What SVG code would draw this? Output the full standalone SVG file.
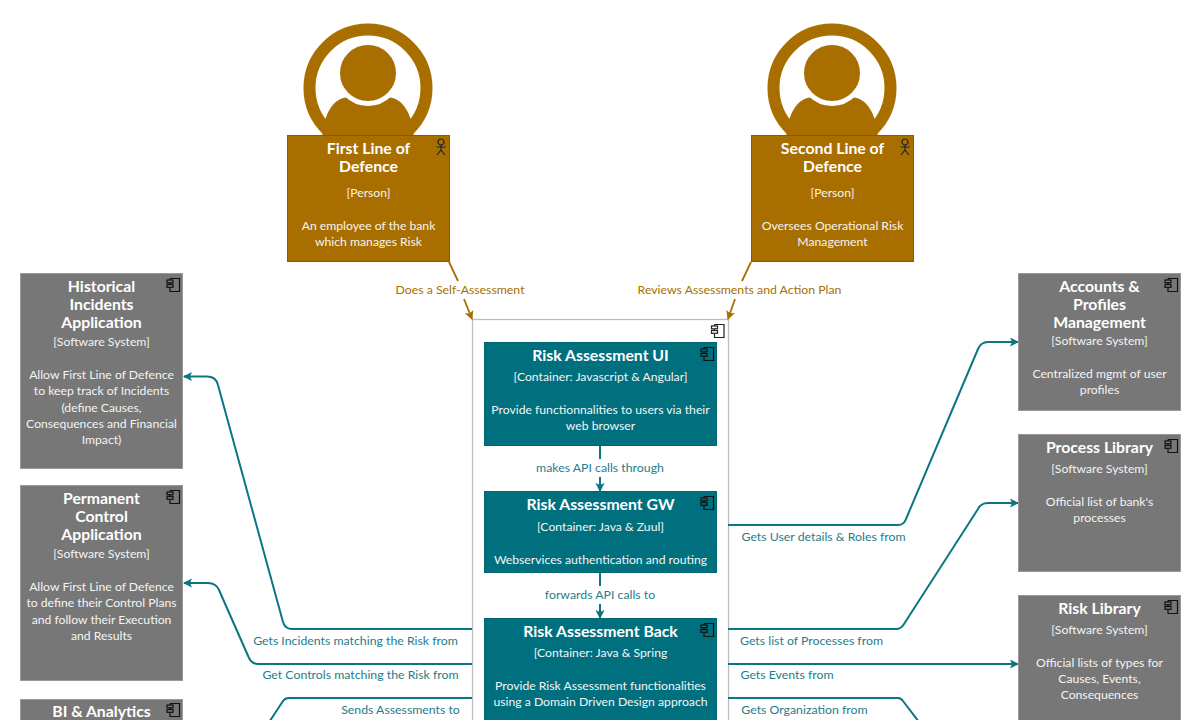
<svg xmlns="http://www.w3.org/2000/svg" width="1201" height="720" viewBox="0 0 1201 720">
<style>
text{font-family:"Lato","Liberation Sans",sans-serif;text-anchor:middle;transform:translateY(-0.7px)}
.t{font-size:15.8px;font-weight:700;fill:#fff}
.d{font-size:12.2px;fill:#f4f4f4}
.box{stroke-width:1}
.g{fill:#777;stroke:#999}
.c{fill:#00707f;stroke:#006570}
.p{fill:#a86f00;stroke:#8a5c00}
.lt{font-size:12.3px;fill:#1f7d8a}
.lb{font-size:12.3px;fill:#a86f00}
.ln{fill:none;stroke:#0b7581;stroke-width:2;stroke-linejoin:round}
.lp{fill:none;stroke:#a86f00;stroke-width:1.8}
.ic{fill:none;stroke-width:1.2}
</style>
<defs>
<marker id="at" markerUnits="userSpaceOnUse" markerWidth="10" markerHeight="10" refX="8" refY="4.500" orient="auto"><path d="M0 0L9 4.500L0 9L2 4.500z" fill="#0b7581"/></marker>
<marker id="ab" markerUnits="userSpaceOnUse" markerWidth="10" markerHeight="10" refX="8" refY="4.500" orient="auto"><path d="M0 0L9 4.500L0 9L2 4.500z" fill="#a86f00"/></marker>
<g id="comp"><path class="ic" d="M-9 -6.500h9.500v13h-9.500v-3.500M-9 -2.200v1.700M-9 -6.500v1.500"/><rect class="ic" x="-12" y="-5" width="6" height="2.800"/><rect class="ic" x="-12" y="-0.500" width="6" height="2.800"/></g>
<g id="actor"><circle class="ic" cx="0" cy="-5" r="3"/><path class="ic" d="M0 -2V3M-4.500 0H4.500M-4 8L0 3L4 8"/></g>
<g id="person"><circle cx="0" cy="0" r="58.500" fill="#fff"/><path d="M-46 50C-44 24 -34 9 -18 9H18C34 9 44 24 46 50V60H-46z" fill="#a86f00"/><circle cx="0" cy="-15" r="30.500" fill="#a86f00" stroke="#fff" stroke-width="5"/><circle cx="0" cy="0" r="58.500" fill="none" stroke="#a86f00" stroke-width="12"/></g>
</defs>

<rect id="boundary" x="472.500" y="319.500" width="256" height="420" fill="#fff" stroke="#bdbdbd" stroke-width="1.300"/>
<use href="#comp" x="723.500" y="331" stroke="#222"/>

<g id="connectors">
<path class="lp" d="M449 262L458 281"/><path class="lp" marker-end="url(#ab)" d="M464 299L472 319"/>
<path class="lp" d="M751 262L742 281"/><path class="lp" marker-end="url(#ab)" d="M735 299L728 319"/>
<path class="ln" d="M600 446V459"/><path class="ln" marker-end="url(#at)" d="M600 477V491"/>
<path class="ln" d="M600 573V586"/><path class="ln" marker-end="url(#at)" d="M600 604V618"/>
<path class="ln" marker-end="url(#at)" d="M472 629H292Q285 629 283 622L218 385Q216 376.500 207 376.500H184"/>
<path class="ln" marker-end="url(#at)" d="M472 664H258Q252 664 249 658L219 590Q216 583 208 583H184"/>
<path class="ln" d="M472 698H289Q285 698 283 701L262 733"/>
<path class="ln" marker-end="url(#at)" d="M728 525H898Q904 525 906 519L978 349Q981 342 988 342H1018"/>
<path class="ln" marker-end="url(#at)" d="M728 629H896Q901 629 904 624L978 509Q981 503 988 503H1018"/>
<path class="ln" marker-end="url(#at)" d="M728 664H1018"/>
<path class="ln" d="M728 698H898Q901 698 903 701L932 739"/>
</g>

<g id="person1"><use href="#person" x="368" y="88"/>
<rect class="box p" x="287.500" y="135.500" width="162" height="126"/>
<use href="#actor" x="441" y="147" stroke="#222"/>
<text class="t" x="368.500" y="155">First Line of</text><text class="t" x="368.500" y="173">Defence</text>
<text class="d" x="368.500" y="198">[Person]</text>
<text class="d" x="368.500" y="231">An employee of the bank</text><text class="d" x="368.500" y="247">which manages Risk</text></g>

<g id="person2"><use href="#person" x="832" y="88"/>
<rect class="box p" x="751.500" y="135.500" width="162" height="126"/>
<use href="#actor" x="905" y="147" stroke="#222"/>
<text class="t" x="832.500" y="155">Second Line of</text><text class="t" x="832.500" y="173">Defence</text>
<text class="d" x="832.500" y="198">[Person]</text>
<text class="d" x="832.500" y="231">Oversees Operational Risk</text><text class="d" x="832.500" y="247">Management</text></g>

<g id="ui"><rect class="box c" x="484.500" y="342.500" width="232" height="103"/>
<use href="#comp" x="713" y="354" stroke="#111"/>
<text class="t" x="600.500" y="362">Risk Assessment UI</text>
<text class="d" x="600.500" y="382">[Container: Javascript &amp; Angular]</text>
<text class="d" x="600.500" y="415">Provide functionnalities to users via their</text>
<text class="d" x="600.500" y="431">web browser</text></g>

<g id="gw"><rect class="box c" x="484.500" y="491.500" width="232" height="81"/>
<use href="#comp" x="713" y="503" stroke="#111"/>
<text class="t" x="600.500" y="511">Risk Assessment GW</text>
<text class="d" x="600.500" y="532">[Container: Java &amp; Zuul]</text>
<text class="d" x="600.500" y="565">Webservices authentication and routing</text></g>

<g id="back"><rect class="box c" x="484.500" y="618.500" width="232" height="109"/>
<use href="#comp" x="713" y="630" stroke="#111"/>
<text class="t" x="600.500" y="638">Risk Assessment Back</text>
<text class="d" x="600.500" y="658">[Container: Java &amp; Spring</text>
<text class="d" x="600.500" y="691">Provide Risk Assessment functionalities</text>
<text class="d" x="600.500" y="707">using a Domain Driven Design approach</text></g>

<g id="historical"><rect class="box g" x="20.500" y="273.500" width="162" height="195"/>
<use href="#comp" x="179" y="285" stroke="#111"/>
<text class="t" x="101.500" y="293">Historical</text><text class="t" x="101.500" y="311">Incidents</text><text class="t" x="101.500" y="329">Application</text>
<text class="d" x="101.500" y="347">[Software System]</text>
<text class="d" x="101.500" y="380">Allow First Line of Defence</text><text class="d" x="101.500" y="396">to keep track of Incidents</text><text class="d" x="101.500" y="413">(define Causes,</text><text class="d" x="101.500" y="429">Consequences and Financial</text><text class="d" x="101.500" y="445">Impact)</text></g>

<g id="permanent"><rect class="box g" x="20.500" y="485.500" width="162" height="195"/>
<use href="#comp" x="179" y="497" stroke="#111"/>
<text class="t" x="101.500" y="505">Permanent</text><text class="t" x="101.500" y="523">Control</text><text class="t" x="101.500" y="541">Application</text>
<text class="d" x="101.500" y="559">[Software System]</text>
<text class="d" x="101.500" y="592">Allow First Line of Defence</text><text class="d" x="101.500" y="608">to define their Control Plans</text><text class="d" x="101.500" y="625">and follow their Execution</text><text class="d" x="101.500" y="641">and Results</text></g>

<g id="bi"><rect class="box g" x="20.500" y="699.500" width="162" height="40"/>
<use href="#comp" x="179" y="710" stroke="#111"/>
<text class="t" x="101.500" y="718">BI &amp; Analytics</text></g>

<g id="accounts"><rect class="box g" x="1018.500" y="273.500" width="162" height="137"/>
<use href="#comp" x="1177" y="285" stroke="#111"/>
<text class="t" x="1099.500" y="293">Accounts &amp;</text><text class="t" x="1099.500" y="311">Profiles</text><text class="t" x="1099.500" y="329">Management</text>
<text class="d" x="1099.500" y="346">[Software System]</text>
<text class="d" x="1099.500" y="379">Centralized mgmt of user</text><text class="d" x="1099.500" y="395">profiles</text></g>

<g id="process"><rect class="box g" x="1018.500" y="434.500" width="162" height="137"/>
<use href="#comp" x="1177" y="446" stroke="#111"/>
<text class="t" x="1099.500" y="454">Process Library</text>
<text class="d" x="1099.500" y="474">[Software System]</text>
<text class="d" x="1099.500" y="507">Official list of bank's</text><text class="d" x="1099.500" y="523">processes</text></g>

<g id="risklib"><rect class="box g" x="1018.500" y="595.500" width="162" height="140"/>
<use href="#comp" x="1177" y="607" stroke="#111"/>
<text class="t" x="1099.500" y="615">Risk Library</text>
<text class="d" x="1099.500" y="635">[Software System]</text>
<text class="d" x="1099.500" y="668">Official lists of types for</text><text class="d" x="1099.500" y="684">Causes, Events,</text><text class="d" x="1099.500" y="700">Consequences</text></g>

<g id="labels">
<text class="lb" x="460" y="295">Does a Self-Assessment</text>
<text class="lb" x="739.500" y="295">Reviews Assessments and Action Plan</text>
<text class="lt" x="600" y="473">makes API calls through</text>
<text class="lt" x="600" y="600">forwards API calls to</text>
<text class="lt" x="355.500" y="646">Gets Incidents matching the Risk from</text>
<text class="lt" x="360.500" y="680">Get Controls matching the Risk from</text>
<text class="lt" x="400.500" y="715">Sends Assessments to</text>
<text class="lt" x="823.500" y="542">Gets User details &amp; Roles from</text>
<text class="lt" x="811.500" y="646">Gets list of Processes from</text>
<text class="lt" x="787" y="680">Gets Events from</text>
<text class="lt" x="804.500" y="715">Gets Organization from</text>
</g>
</svg>
